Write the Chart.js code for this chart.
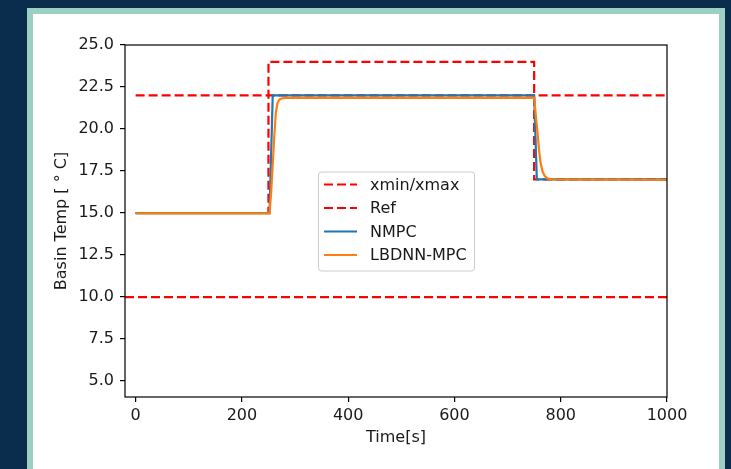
<!DOCTYPE html>
<html>
<head>
<meta charset="utf-8">
<script src="https://cdn.jsdelivr.net/npm/chart.js@4"></script>
<style>
  html, body { margin: 0; padding: 0; }
  body { width: 731px; height: 469px; background: #0a2d4d; position: relative; overflow: hidden; }
  #panel {
    position: absolute; left: 27px; top: 8px; width: 698px; height: 500px;
    box-sizing: border-box; border: 6px solid #9dcfc3; background: #ffffff;
  }
  #tempChart { position: absolute; left: 0; top: 0; }
</style>
</head>
<body>
<div id="panel"></div>
<canvas id="tempChart" width="731" height="469"></canvas>
<script>
// Axis ticks
const xTicks = [0, 200, 400, 600, 800, 1000];
const yTicks = [5, 7.5, 10, 12.5, 15, 17.5, 20, 22.5, 25];

// Bounds (xmin / xmax)
const xminTime = [-20, 1000];
const xminTemp = [10, 10];
const xmaxTime = [0, 1000];
const xmaxTemp = [22, 22];

// Reference trajectory
const refTime = [0, 250, 250, 750, 750, 1000];
const refTemp = [15, 15, 24, 24, 17, 17];

// NMPC response
const nmpcTime = [0, 252, 258, 750, 755, 1000];
const nmpcTemp = [14.99, 14.99, 22.0, 22.0, 17.0, 17.0];

// LBDNN-MPC response
const lbdnnTime = [0, 252, 255, 258, 261, 264, 267, 271, 276, 283, 750, 752, 754, 756, 759, 762, 766, 770, 775, 782, 1000];
const lbdnnTemp = [14.98, 14.98, 16.2, 17.9, 19.6, 21.0, 21.55, 21.76, 21.83, 21.85, 21.85, 21.2, 20.5, 19.9, 18.8, 18.0, 17.45, 17.2, 17.06, 17.0, 16.98];

const toPoints = (xs, ys) => xs.map((x, i) => ({ x: x, y: ys[i] }));

const FONT = "'DejaVu Sans', sans-serif";
const dash = [9, 4];

// spines on all four sides
const frame = {
  id: "frame",
  afterDatasetsDraw(chart) {
    const { ctx, chartArea: a } = chart;
    ctx.save();
    ctx.strokeStyle = "#000";
    ctx.lineWidth = 1.2;
    ctx.strokeRect(a.left, a.top, a.right - a.left, a.bottom - a.top);
    ctx.restore();
  },
};

// matplotlib-style legend centred in the plot area
const centerLegend = {
  id: "centerLegend",
  afterDraw(chart) {
    const { ctx, chartArea: a } = chart;
    const items = chart.data.datasets.filter((d) => !d.noLegend);
    const w = 156, rowH = 23.5, h = 99;
    const left = (a.left + a.right) / 2 - w / 2;
    const top = (a.top + a.bottom) / 2 - h / 2;
    ctx.save();
    ctx.fillStyle = "rgba(255,255,255,0.8)";
    ctx.strokeStyle = "#cccccc";
    ctx.lineWidth = 1;
    ctx.beginPath();
    ctx.roundRect(left + 0.5, top + 0.5, w, h, 3);
    ctx.fill();
    ctx.stroke();
    ctx.font = "16px " + FONT;
    ctx.textBaseline = "middle";
    items.forEach((d, i) => {
      const y = top + 13 + i * rowH;
      ctx.strokeStyle = d.borderColor;
      ctx.lineWidth = d.borderWidth;
      ctx.setLineDash(d.borderDash || []);
      ctx.beginPath();
      ctx.moveTo(left + 6, y);
      ctx.lineTo(left + 39, y);
      ctx.stroke();
      ctx.setLineDash([]);
      ctx.fillStyle = "#1a1a1a";
      ctx.fillText(d.label, left + 52, y + 1);
    });
    ctx.restore();
  },
};

const ctx = document.getElementById("tempChart").getContext("2d");
new Chart(ctx, {
  type: "line",
  data: {
    datasets: [
      {
        label: "xmin/xmax",
        data: toPoints(xminTime, xminTemp),
        borderColor: "#ff0000",
        borderWidth: 2.2,
        borderDash: dash,
        order: 5,
      },
      {
        label: "xmin/xmax",
        data: toPoints(xmaxTime, xmaxTemp),
        borderColor: "#ff0000",
        borderWidth: 2.2,
        borderDash: dash,
        noLegend: true,
        order: 4,
      },
      {
        label: "Ref",
        data: toPoints(refTime, refTemp),
        borderColor: "#ff0000",
        borderWidth: 2.2,
        borderDash: dash,
        order: 3,
      },
      {
        label: "NMPC",
        data: toPoints(nmpcTime, nmpcTemp),
        borderColor: "#1f77b4",
        borderWidth: 2.2,
        order: 2,
      },
      {
        label: "LBDNN-MPC",
        data: toPoints(lbdnnTime, lbdnnTemp),
        borderColor: "#ff7f0e",
        borderWidth: 2.2,
        order: 1,
      },
    ],
  },
  options: {
    responsive: false,
    animation: false,
    elements: { point: { radius: 0 }, line: { tension: 0 } },
    layout: { padding: { left: 0, right: 64, top: 45, bottom: 0 } },
    plugins: {
      legend: { display: false },
      tooltip: { enabled: false },
    },
    scales: {
      x: {
        type: "linear",
        min: -20,
        max: 1000,
        afterBuildTicks: (s) => { s.ticks = xTicks.map((v) => ({ value: v })); },
        afterFit: (s) => { s.height = 72; },
        grid: { drawOnChartArea: false, drawTicks: true, tickLength: 5, color: "#000", lineWidth: 1.2 },
        border: { display: false },
        ticks: { color: "#1a1a1a", padding: 4, font: { family: FONT, size: 16 }, maxRotation: 0, callback: (v) => String(v) },
        title: { display: true, text: "Time[s]", color: "#1a1a1a", font: { family: FONT, size: 16 }, padding: { top: 4, bottom: 22 } },
      },
      y: {
        type: "linear",
        min: 4.05,
        max: 25,
        afterBuildTicks: (s) => { s.ticks = yTicks.map((v) => ({ value: v })); },
        afterFit: (s) => { s.width = 125; },
        grid: { drawOnChartArea: false, drawTicks: true, tickLength: 5, color: "#000", lineWidth: 1.2 },
        border: { display: false },
        ticks: { color: "#1a1a1a", padding: 6, font: { family: FONT, size: 16 }, callback: (v) => v.toFixed(1) },
        title: { display: true, text: "Basin Temp [ \u00b0 C]", color: "#1a1a1a", font: { family: FONT, size: 16 }, padding: { top: 52, bottom: 0 } },
      },
    },
  },
  plugins: [frame, centerLegend],
});
</script>
</body>
</html>
